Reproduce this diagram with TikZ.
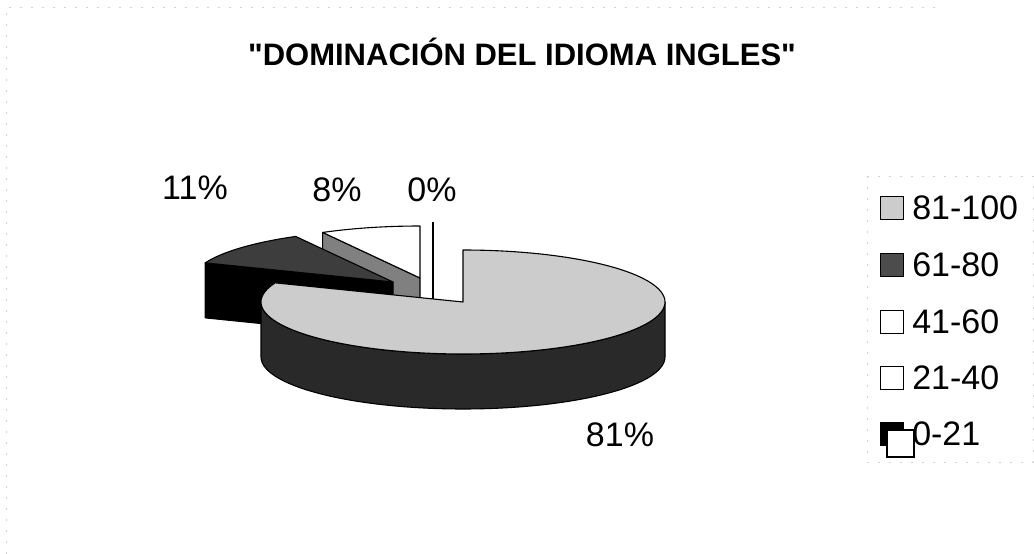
\documentclass[tikz,border=0pt]{standalone}
\usepackage{fontspec}
\setmainfont{Liberation Sans}[Ligatures=TeXOff]
\usetikzlibrary{positioning}
\definecolor{pieLight}{gray}{0.80}
\definecolor{pieSide}{gray}{0.16}
\definecolor{pieDarkTop}{gray}{0.24}
\definecolor{pieMid}{gray}{0.50}
\definecolor{keyDark}{gray}{0.30}
\definecolor{frameGray}{gray}{0.82}
% geometry of the pie (radii and height of the disc)
\newcommand{\pieRx}{202}
\newcommand{\pieRy}{52}
\newcommand{\pieDepth}{55}
\tikzset{%
  % Specifications for style of the slices:
     slice/.style = {draw=black, line width=1.1pt, line join=round},
    lightSlice/.style = {slice, fill=pieLight},
    sideSlice/.style = {slice, fill=pieSide},
    darkTopSlice/.style = {slice, fill=pieDarkTop},
    blackSlice/.style = {slice, fill=black},
    midSlice/.style = {slice, fill=pieMid},
    whiteSlice/.style = {slice, fill=white},
  % labels and legend
    pctLabel/.style = {font=\fontsize{34}{40}\selectfont, inner sep=0pt},
    legendKey/.style = {draw=black, line width=1.1pt, minimum width=23pt,
                        minimum height=23pt, inner sep=0pt},
    legendText/.style = {font=\fontsize{34}{40}\selectfont, inner sep=0pt},
    frameLine/.style = {draw=frameGray, line width=0.6pt, dash pattern=on 2pt off 9pt},
}

\begin{document}
\begin{tikzpicture}[x=1pt, y=-1pt]
  \useasboundingbox (0,0) rectangle (1034,554);

  % faint frame of the chart and of the legend
  \draw[frameLine] (6,554) -- (6,7) -- (935,7);
  \draw[frameLine] (867,176) rectangle (1033,462);

  \node (titleNode) at (522,52) {\fontsize{31}{36}\selectfont\bfseries
                                 "DOMINACIÓN DEL IDIOMA INGLES"};

  % slice 8% (centre moved to 420,278)
  \draw[midSlice] (420,278) -- ({420+\pieRx*cos(118.8)},{278-\pieRy*sin(118.8)})
       -- ({420+\pieRx*cos(118.8)},{278+\pieDepth-\pieRy*sin(118.8)})
       -- (420,278+\pieDepth) -- cycle;
  \draw[whiteSlice] (420,278) -- plot[domain=118.8:90, samples=20]
       ({420+\pieRx*cos(\x)},{278-\pieRy*sin(\x)}) -- cycle;

  % slice 11% (centre moved to 393,282)
  \draw[blackSlice] (393,282) -- ({393+\pieRx*cos(158.4)},{282-\pieRy*sin(158.4)})
       -- ({393+\pieRx*cos(158.4)},{282+\pieDepth-\pieRy*sin(158.4)})
       -- (393,282+\pieDepth) -- cycle;
  \draw[darkTopSlice] (393,282) -- plot[domain=158.4:118.8, samples=25]
       ({393+\pieRx*cos(\x)},{282-\pieRy*sin(\x)}) -- cycle;

  % slice 0%, seen edge on
  \draw[slice] (433,222) -- (433,329);

  % slice 81% (centre 463,302)
  \draw[sideSlice] plot[domain=180:360, samples=60]
       ({463+\pieRx*cos(\x)},{302-\pieRy*sin(\x)})
       -- plot[domain=360:180, samples=60]
       ({463+\pieRx*cos(\x)},{302+\pieDepth-\pieRy*sin(\x)}) -- cycle;
  \draw[lightSlice] (463,302) -- (463,250) -- plot[domain=90:-201.6, samples=120]
       ({463+\pieRx*cos(\x)},{302-\pieRy*sin(\x)}) -- cycle;

  % percentages
  \node (pctEleven) [pctLabel] at (195,188) {11\%};
  \node (pctEight)  [pctLabel] at (337,190) {8\%};
  \node (pctZero)   [pctLabel] at (432,190) {0\%};
  \node (pctMain)   [pctLabel] at (620,435) {81\%};

  % legend
  \node (keyA) [legendKey, fill=pieLight] at (892,208) {};
  \node (keyB) [legendKey, fill=keyDark]  at (892,265) {};
  \node (keyC) [legendKey, fill=white]    at (892,322) {};
  \node (keyD) [legendKey, fill=white]    at (892,378) {};
  \node (keyE) [legendKey, fill=black]    at (892,434) {};
  \node (keyExtra) [legendKey, fill=white, minimum width=27pt, minimum height=27pt]
                   at (900.5,443.5) {};

  \node (textA) [legendText, right=8pt of keyA] {81-100};
  \node (textB) [legendText, right=8pt of keyB] {61-80};
  \node (textC) [legendText, right=8pt of keyC] {41-60};
  \node (textD) [legendText, right=8pt of keyD] {21-40};
  \node (textE) [legendText, right=8pt of keyE] {0-21};
\end{tikzpicture}
\end{document}
